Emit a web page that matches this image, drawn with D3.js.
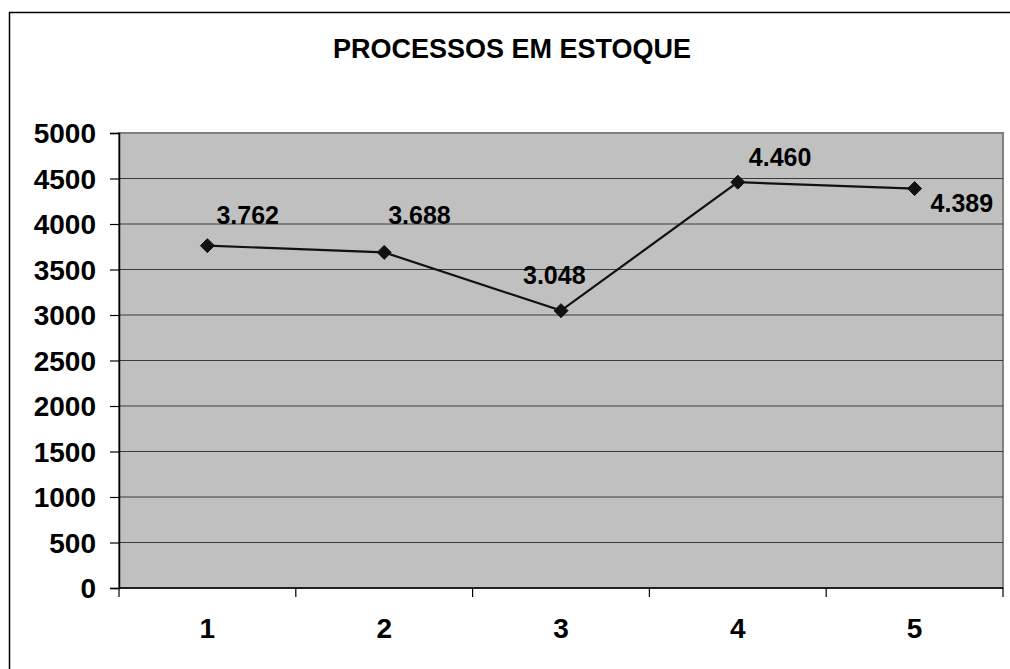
<!DOCTYPE html>
<html>
<head>
<meta charset="utf-8">
<script src="https://cdn.jsdelivr.net/npm/d3@7"></script>
<style>
	body { margin: 0; background: #fff; }
	svg text { font-family: "Liberation Sans", Arial, sans-serif; font-weight: bold; fill: #000; }
</style>
</head>
<body>
<div id="chart"></div>
<script>
// chart data
var title = "PROCESSOS EM ESTOQUE";
var categories = ["1", "2", "3", "4", "5"];
var values = [3762, 3688, 3048, 4460, 4389];
var yTicks = [0, 500, 1000, 1500, 2000, 2500, 3000, 3500, 4000, 4500, 5000];

// label placement (Excel labels were moved by hand), offsets from the point
var labelDx = [9, 4, -38, 11, 16];
var labelDy = [-22, -28, -27, -16, 23];

var width = 1010, height = 669;
var plot = {left: 119, top: 133, right: 1003, bottom: 588};

var svg = d3.select("#chart").append("svg")
	.attr("width", width).attr("height", height);

// outer chart border (right and bottom edges fall outside the picture)
svg.append("rect")
	.attr("x", 9.5).attr("y", 12.5)
	.attr("width", 1020).attr("height", 680)
	.attr("fill", "#fff").attr("stroke", "#000").attr("stroke-width", 1.5);

// title
svg.append("text")
	.attr("x", 512).attr("y", 58)
	.attr("text-anchor", "middle")
	.attr("font-size", 27)
	.text(title);

var x = d3.scaleBand().domain(categories).range([plot.left, plot.right]).padding(0);
var y = d3.scaleLinear().domain([0, 5000]).range([plot.bottom, plot.top]);

// plot area
svg.append("rect")
	.attr("x", plot.left).attr("y", plot.top)
	.attr("width", plot.right - plot.left).attr("height", plot.bottom - plot.top)
	.attr("fill", "#c0c0c0").attr("stroke", "#808080").attr("stroke-width", 2);

// gridlines
svg.append("g").selectAll("line")
	.data(yTicks.filter(function (d) { return d > 0 && d < 5000; }))
	.enter().append("line")
	.attr("x1", plot.left).attr("x2", plot.right)
	.attr("y1", function (d) { return y(d); })
	.attr("y2", function (d) { return y(d); })
	.attr("stroke", "#3a3a3a").attr("stroke-width", 1.2);

// y axis
var yAxis = svg.append("g")
	.attr("transform", "translate(" + plot.left + ",0)")
	.call(d3.axisLeft(y).tickValues(yTicks).tickSize(9).tickPadding(14).tickFormat(d3.format("d")));
yAxis.select(".domain").attr("stroke", "#000").attr("stroke-width", 1.5);
yAxis.selectAll(".tick line").attr("stroke", "#000").attr("stroke-width", 1.2);
yAxis.selectAll(".tick text")
	.attr("font-size", 28).attr("dy", "0.35em")
	.attr("font-family", "Liberation Sans, Arial, sans-serif").attr("font-weight", "bold");

// x axis, ticks between categories
var xEdges = categories.map(function (c) { return x(c); }).concat([plot.right]);
var xAxis = svg.append("g");
xAxis.append("line")
	.attr("x1", plot.left).attr("x2", plot.right)
	.attr("y1", plot.bottom).attr("y2", plot.bottom)
	.attr("stroke", "#000").attr("stroke-width", 1.5);
xAxis.selectAll("line.tick")
	.data(xEdges).enter().append("line")
	.attr("class", "tick")
	.attr("x1", function (d) { return d; }).attr("x2", function (d) { return d; })
	.attr("y1", plot.bottom).attr("y2", plot.bottom + 9)
	.attr("stroke", "#000").attr("stroke-width", 1.2);
xAxis.selectAll("text")
	.data(categories).enter().append("text")
	.attr("x", function (d) { return x(d) + x.bandwidth() / 2; })
	.attr("y", 638)
	.attr("text-anchor", "middle")
	.attr("font-size", 28)
	.text(function (d) { return d; });

// series line
var pts = values.map(function (v, i) {
	return {cat: categories[i], value: v, i: i};
});
var line = d3.line()
	.x(function (d) { return x(d.cat) + x.bandwidth() / 2; })
	.y(function (d) { return y(d.value); });

svg.append("path")
	.datum(pts)
	.attr("d", line)
	.attr("fill", "none").attr("stroke", "#111").attr("stroke-width", 2.2);

// diamond markers
svg.append("g").selectAll("path")
	.data(pts).enter().append("path")
	.attr("transform", function (d) {
		return "translate(" + (x(d.cat) + x.bandwidth() / 2) + "," + y(d.value) + ")";
	})
	.attr("d", d3.symbol().type(d3.symbolDiamond2).size(125))
	.attr("fill", "#111").attr("stroke", "#111").attr("stroke-width", 1);

// data labels, pt-BR thousands separator
var ptBR = d3.formatLocale({decimal: ",", thousands: ".", grouping: [3], currency: ["R$", ""]});
var fmt = ptBR.format(",d");
svg.append("g").selectAll("text")
	.data(pts).enter().append("text")
	.attr("x", function (d) { return x(d.cat) + x.bandwidth() / 2 + labelDx[d.i]; })
	.attr("y", function (d) { return y(d.value) + labelDy[d.i]; })
	.attr("font-size", 25)
	.text(function (d) { return fmt(d.value); });
</script>
</body>
</html>
